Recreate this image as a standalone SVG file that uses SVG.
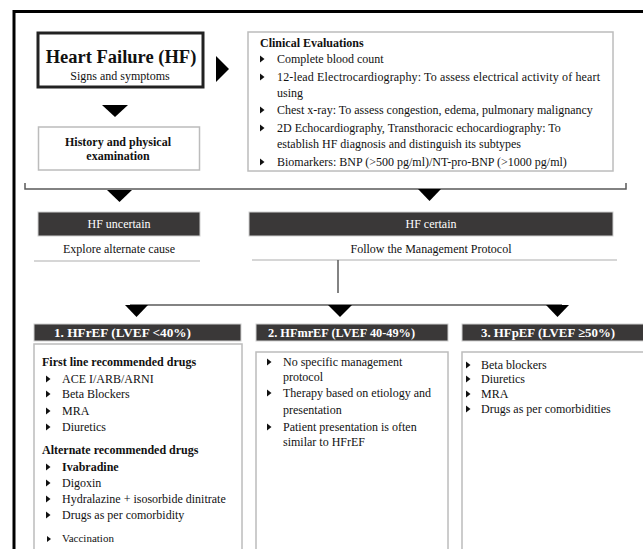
<svg xmlns="http://www.w3.org/2000/svg" width="643" height="549" viewBox="0 0 643 549">
<style>
text{font-family:"Liberation Serif","Times New Roman",serif;font-size:12px;fill:#111}
.b{font-weight:bold}
.w{fill:#fff}
.c{text-anchor:middle}
.h{font-size:13px;font-weight:bold;fill:#fff}
.gbox{fill:#fff;stroke:#bcbcbc;stroke-width:1.5}
.dark{fill:#3a3838;stroke:#cfcfcf;stroke-width:1}
.ln{fill:none;stroke:#5a5a5a;stroke-width:1.5}
.gl{fill:none;stroke:#c8c8c8;stroke-width:1.5}
.tri{fill:#000}
</style>
<defs>
<polygon id="bul" points="0,-3.5 0,3.5 4.5,0" fill="#111"/>
<polygon id="bul2" points="0,-3 0,3 4,0" fill="#111"/>
</defs>
<rect width="643" height="549" fill="#fff"/>
<path d="M14,549 V11.5 H643" fill="none" stroke="#000" stroke-width="3"/>

<g id="hf">
<rect x="38" y="33" width="165" height="54" fill="#fff" stroke="#222" stroke-width="3"/>
<text x="121" y="63" class="b c" style="font-size:18.5px">Heart Failure (HF)</text>
<text x="120" y="80" class="c">Signs and symptoms</text>
</g>

<g id="history">
<rect x="38.5" y="127" width="161" height="43" class="gbox"/>
<text x="118" y="146" class="b c">History and physical</text>
<text x="118" y="160" class="b c">examination</text>
</g>

<g id="clinical">
<rect x="248" y="32" width="365" height="139" class="gbox"/>
<text x="260" y="47" class="b">Clinical Evaluations</text>
<use href="#bul" x="260" y="59"/><text x="277" y="63">Complete blood count</text>
<use href="#bul" x="260" y="77"/><text x="277" y="81" textLength="323" lengthAdjust="spacing">12-lead Electrocardiography: To assess electrical  activity of heart</text>
<text x="277" y="97">using</text>
<use href="#bul" x="260" y="110"/><text x="277" y="114">Chest x-ray: To assess congestion, edema, pulmonary malignancy</text>
<use href="#bul" x="260" y="128"/><text x="277" y="132">2D Echocardiography, Transthoracic echocardiography: To</text>
<text x="277" y="148">establish HF diagnosis and distinguish its subtypes</text>
<use href="#bul" x="260" y="162"/><text x="277" y="166">Biomarkers: BNP (&gt;500 pg/ml)/NT-pro-BNP (&gt;1000 pg/ml)</text>
</g>

<g id="uncertain">
<rect x="38" y="212" width="162" height="24" class="dark"/>
<text x="119" y="228" class="w c">HF uncertain</text>
<text x="119" y="253" class="c">Explore alternate cause</text>
<line x1="34" y1="261" x2="200" y2="261" class="gl"/>
</g>

<g id="certain">
<rect x="249" y="212" width="364" height="24" class="dark"/>
<text x="431" y="228" class="w c">HF certain</text>
<text x="431" y="253" class="c">Follow the Management Protocol</text>
<line x1="252" y1="260" x2="617" y2="260" class="gl"/>
</g>

<g id="hfref">
<rect x="34" y="324" width="207" height="17" class="dark"/>
<text x="54" y="337" class="h" textLength="137" lengthAdjust="spacingAndGlyphs">1. HFrEF (LVEF &lt;40%)</text>
<rect x="34" y="344" width="208" height="210" class="gbox"/>
<text x="42" y="366" class="b">First line recommended drugs</text>
<use href="#bul" x="46" y="379"/><text x="62" y="383">ACE I/ARB/ARNI</text>
<use href="#bul" x="46" y="394"/><text x="62" y="398">Beta Blockers</text>
<use href="#bul" x="46" y="411"/><text x="62" y="415">MRA</text>
<use href="#bul" x="46" y="427"/><text x="62" y="431">Diuretics</text>
<text x="42" y="454" class="b">Alternate recommended drugs</text>
<use href="#bul" x="46" y="467"/><text x="62" y="471" class="b">Ivabradine</text>
<use href="#bul" x="46" y="483"/><text x="62" y="487">Digoxin</text>
<use href="#bul" x="46" y="499"/><text x="62" y="503">Hydralazine + isosorbide dinitrate</text>
<use href="#bul" x="46" y="515"/><text x="62" y="519">Drugs as per comorbidity</text>
<use href="#bul2" x="47" y="539"/><text x="62" y="542" style="font-size:11px">Vaccination</text>
</g>

<g id="hfmref">
<rect x="256" y="324" width="192" height="17" class="dark"/>
<text x="268" y="337" class="h" textLength="147" lengthAdjust="spacingAndGlyphs">2. HFmrEF (LVEF 40-49%)</text>
<rect x="256" y="352" width="192" height="202" class="gbox"/>
<use href="#bul" x="267" y="362"/><text x="283" y="366">No specific management</text>
<text x="283" y="381">protocol</text>
<use href="#bul" x="267" y="393"/><text x="283" y="397">Therapy based on etiology and</text>
<text x="283" y="414">presentation</text>
<use href="#bul" x="267" y="427"/><text x="283" y="431">Patient presentation is often</text>
<text x="283" y="446">similar to HFrEF</text>
</g>

<g id="hfpef">
<rect x="462" y="324" width="185" height="17" class="dark"/>
<text x="481" y="337" class="h" textLength="134" lengthAdjust="spacingAndGlyphs">3. HFpEF (LVEF ≥50%)</text>
<rect x="462" y="352" width="190" height="202" class="gbox"/>
<use href="#bul" x="466" y="365"/><text x="481" y="369">Beta blockers</text>
<use href="#bul" x="466" y="379"/><text x="481" y="383">Diuretics</text>
<use href="#bul" x="466" y="394"/><text x="481" y="398">MRA</text>
<use href="#bul" x="466" y="409"/><text x="481" y="413">Drugs as per comorbidities</text>
</g>

<g id="connectors">
<polygon class="tri" points="216,56 216,82 229,69"/>
<polygon class="tri" points="102,105 128,105 115,117"/>
<path class="ln" d="M25,183 V189 H626 V183"/>
<polygon class="tri" points="107,190 132,190 119.5,202"/>
<polygon class="tri" points="418,189 441,189 429.5,201"/>
<line x1="338" y1="260" x2="338" y2="293" class="ln"/>
<line x1="130" y1="305" x2="562" y2="305" class="ln"/>
<polygon class="tri" points="125,305 148,305 136.5,317"/>
<polygon class="tri" points="328,305 352,305 340,317"/>
<polygon class="tri" points="546,305 569,305 557.5,317"/>
</g>
</svg>
